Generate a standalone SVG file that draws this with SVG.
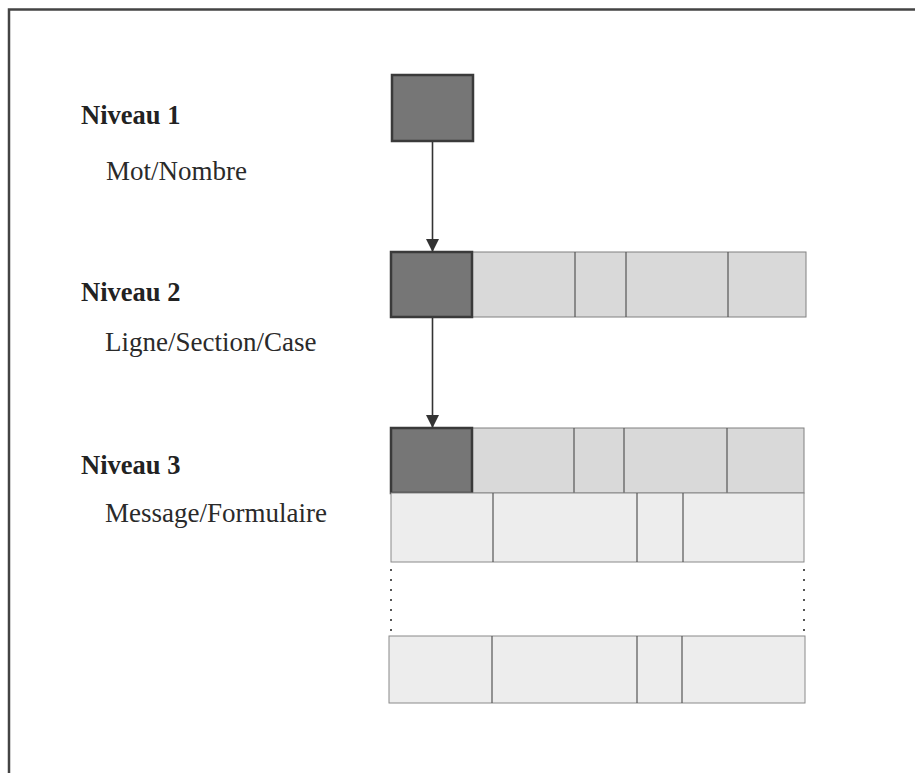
<svg xmlns="http://www.w3.org/2000/svg" width="915" height="773" viewBox="0 0 915 773">
<defs>
<style>
.lvl{font-family:"Liberation Serif","Times New Roman",serif;font-weight:bold;font-size:26.5px;fill:#222}
.sub{font-family:"Liberation Serif","Times New Roman",serif;font-size:27px;fill:#2a2a2a}
.dark{fill:#767676;stroke:#3a3a3a;stroke-width:2.5}
.mid{fill:#d9d9d9;stroke:#808080;stroke-width:1}
.light{fill:#ededed;stroke:#8a8a8a;stroke-width:1}
.div{stroke:#555;stroke-width:1.2}
.conn{stroke:#333;stroke-width:1.6;fill:none}
.dots{stroke:#555;stroke-width:2;stroke-dasharray:2 8}
</style>
<marker id="ah" markerWidth="14" markerHeight="14" refX="12" refY="6.5" orient="auto" markerUnits="userSpaceOnUse">
<path d="M0,0 L13,6.5 L0,13 Z" fill="#333"/>
</marker>
</defs>
<rect width="915" height="773" fill="#fff"/>
<path d="M9,773 V9.5 H915" fill="none" stroke="#444" stroke-width="2.5"/>

<g id="labels">
<text class="lvl" x="81" y="124">Niveau 1</text>
<text class="sub" x="106" y="180">Mot/Nombre</text>
<text class="lvl" x="81" y="301">Niveau 2</text>
<text class="sub" x="105" y="351">Ligne/Section/Case</text>
<text class="lvl" x="81" y="474">Niveau 3</text>
<text class="sub" x="105" y="522">Message/Formulaire</text>
</g>

<g id="niveau1">
<rect class="dark" x="392" y="75" width="81" height="66"/>
</g>

<g id="niveau2">
<rect class="mid" x="391" y="252" width="415" height="65"/>
<line class="div" x1="575" y1="252" x2="575" y2="317"/>
<line class="div" x1="626" y1="252" x2="626" y2="317"/>
<line class="div" x1="728" y1="252" x2="728" y2="317"/>
<rect class="dark" x="391" y="252" width="81" height="65"/>
</g>

<g id="niveau3">
<rect class="mid" x="391" y="428" width="413" height="65"/>
<line class="div" x1="574" y1="428" x2="574" y2="493"/>
<line class="div" x1="624" y1="428" x2="624" y2="493"/>
<line class="div" x1="727" y1="428" x2="727" y2="493"/>
<rect class="dark" x="391" y="428" width="81" height="65"/>
<rect class="light" x="391" y="493" width="413" height="69"/>
<line class="div" x1="493" y1="493" x2="493" y2="562"/>
<line class="div" x1="637" y1="493" x2="637" y2="562"/>
<line class="div" x1="683" y1="493" x2="683" y2="562"/>
<line class="dots" x1="391" y1="569" x2="391" y2="632"/>
<line class="dots" x1="804" y1="569" x2="804" y2="632"/>
<rect class="light" x="389" y="636" width="416" height="67"/>
<line class="div" x1="492" y1="636" x2="492" y2="703"/>
<line class="div" x1="637" y1="636" x2="637" y2="703"/>
<line class="div" x1="682" y1="636" x2="682" y2="703"/>
</g>

<g id="connectors">
<line class="conn" x1="432.5" y1="142" x2="432.5" y2="251" marker-end="url(#ah)"/>
<line class="conn" x1="432.5" y1="318" x2="432.5" y2="427" marker-end="url(#ah)"/>
</g>
</svg>
